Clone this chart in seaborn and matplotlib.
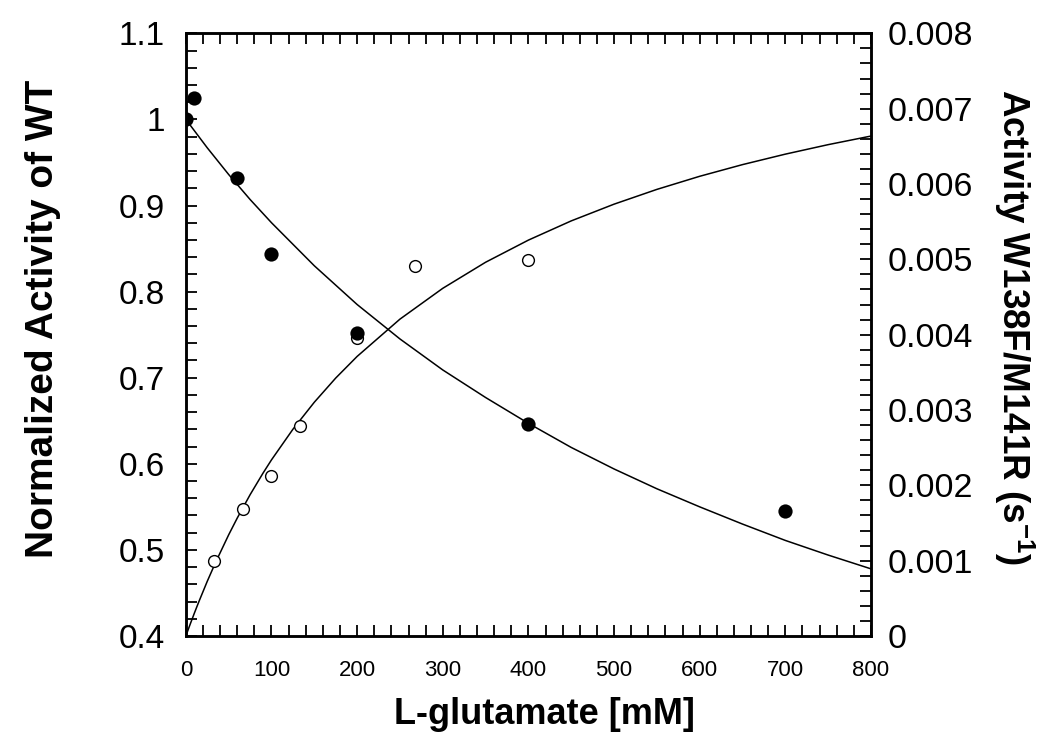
import matplotlib
matplotlib.use("Agg")
import matplotlib.pyplot as plt
import seaborn as sns

# measured points
wt_conc = [0, 10, 60, 100, 200, 400, 700]
wt_activity = [1.0, 1.025, 0.932, 0.844, 0.752, 0.646, 0.545]

mut_conc = [33, 67, 100, 133, 200, 267, 400]
mut_activity = [0.00099, 0.00168, 0.00212, 0.00279, 0.00395, 0.00491, 0.00499]

# fitted curves
wt_fit_x = [0, 25, 50, 75, 100, 150, 200, 250, 300, 350, 400, 450, 500, 550, 600, 650, 700, 750, 800]
wt_fit_y = [1.000, 0.967, 0.936, 0.907, 0.880, 0.830, 0.785, 0.745, 0.709, 0.677, 0.647,
            0.619, 0.594, 0.571, 0.550, 0.530, 0.511, 0.494, 0.478]

mut_fit_x = [0, 5, 10, 15, 25, 35, 50, 60, 75, 90, 100, 125, 150, 175, 200, 250, 300, 350,
             400, 450, 500, 550, 600, 650, 700, 750, 800]
mut_fit_y = [0.0, 0.000155, 0.000305, 0.000450, 0.000726, 0.000984, 0.001343, 0.001565,
             0.001875, 0.002160, 0.002338, 0.002744, 0.003103, 0.003424, 0.003711, 0.004206,
             0.004615, 0.004961, 0.005255, 0.005510, 0.005732, 0.005928, 0.006102, 0.006257,
             0.006396, 0.006522, 0.006636]

# axis ticks
x_ticks = [0, 100, 200, 300, 400, 500, 600, 700, 800]
x_labels = ['0', '100', '200', '300', '400', '500', '600', '700', '800']
left_ticks = [0.4, 0.5, 0.6, 0.7, 0.8, 0.9, 1.0, 1.1]
left_labels = ['0.4', '0.5', '0.6', '0.7', '0.8', '0.9', '1', '1.1']
right_ticks = [0, 0.001, 0.002, 0.003, 0.004, 0.005, 0.006, 0.007, 0.008]
right_labels = ['0', '0.001', '0.002', '0.003', '0.004', '0.005', '0.006', '0.007', '0.008']

sns.set_style('ticks')
plt.rcParams['font.family'] = ['Liberation Sans', 'DejaVu Sans']
plt.rcParams['mathtext.fontset'] = 'custom'
plt.rcParams['mathtext.rm'] = 'Liberation Sans'
plt.rcParams['mathtext.bf'] = 'Liberation Sans:bold'
for key in ['text.color', 'axes.labelcolor', 'xtick.color', 'ytick.color', 'axes.edgecolor']:
    plt.rcParams[key] = 'black'

fig, ax = plt.subplots(figsize=(10.5, 7.5), dpi=100)
fig.subplots_adjust(left=0.177, right=0.8295, bottom=0.152, top=0.9556)
ax2 = ax.twinx()

# WT on the left axis
sns.lineplot(x=wt_fit_x, y=wt_fit_y, ax=ax, color='black', lw=1.1, estimator=None, sort=False)
sns.scatterplot(x=wt_conc, y=wt_activity, ax=ax, color='black', s=105, edgecolor='black',
                linewidth=0, zorder=5)

# mutant on the right axis
sns.lineplot(x=mut_fit_x, y=mut_fit_y, ax=ax2, color='black', lw=1.1, estimator=None, sort=False)
ax2.scatter(mut_conc, mut_activity, s=72, facecolors='white', edgecolors='black',
            linewidths=1.0, zorder=4)

# keep filled dots above open ones
ax.set_zorder(ax2.get_zorder() + 1)
ax.patch.set_visible(False)

ax.set_xlim(0, 800)
ax.set_ylim(0.4, 1.1)
ax2.set_ylim(0, 0.008)

ax.set_xticks(x_ticks)
ax.set_xticklabels(x_labels, fontsize=16)
ax.set_xticks([v for v in range(0, 801, 20)], minor=True)
ax.set_yticks(left_ticks)
ax.set_yticklabels(left_labels, fontsize=24)
ax.set_yticks([0.4 + 0.02 * i for i in range(36)], minor=True)
ax2.set_yticks(right_ticks)
ax2.set_yticklabels(right_labels, fontsize=24.5)
ax2.set_yticks([0.0002 * i for i in range(41)], minor=True)

for a in (ax, ax2):
    for sp in a.spines.values():
        sp.set_linewidth(1.8)
        sp.set_color('black')
        sp.set_visible(True)
ax.tick_params(axis='x', which='both', direction='in', top=True, bottom=True,
               length=8, width=1.3, pad=17)
ax.tick_params(axis='y', which='both', direction='in', left=True, right=False,
               length=8, width=1.3, pad=15)
ax2.tick_params(axis='y', which='both', direction='in', left=False, right=True,
                length=8, width=1.3, pad=12)

ax.set_xlabel('L-glutamate [mM]', fontsize=26, fontweight='bold')
ax.xaxis.set_label_coords(0.524, -0.101)
ax.set_ylabel('Normalized Activity of WT', fontsize=28, fontweight='bold')
ax.yaxis.set_label_coords(-0.182, 0.527)
ax2.set_ylabel(r'Activity W138F/M141R (s$^{\mathbf{-1}}$)', fontsize=26.5, fontweight='bold',
               rotation=270, va='bottom')
ax2.yaxis.set_label_coords(1.176, 0.512)

fig.savefig('out.png', dpi=100, facecolor='white')
